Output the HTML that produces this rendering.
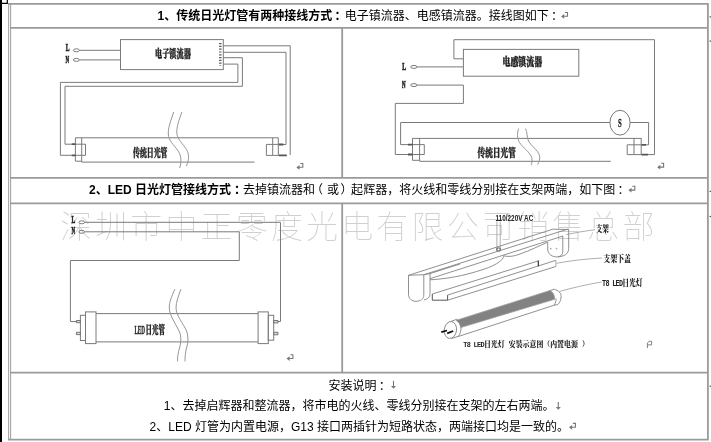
<!DOCTYPE html>
<html lang="zh-CN">
<head>
<meta charset="utf-8">
<title>LED日光灯管接线方式</title>
<style>
html,body{margin:0;padding:0;background:#fff;}
body{width:711px;height:442px;overflow:hidden;position:relative;font-family:"Liberation Sans","Noto Sans CJK SC",sans-serif;}
svg{position:absolute;left:0;top:0;display:block;filter:grayscale(1);}
.t{font-family:"Liberation Sans","Noto Sans CJK SC",sans-serif;font-size:12px;fill:#000;}
.b{font-weight:bold;}
.lb{font-family:"Liberation Serif","Noto Serif CJK SC",serif;font-weight:900;fill:#222;stroke:#222;stroke-width:0.35;}
.lm{font-family:"Liberation Mono","Noto Serif CJK SC",monospace;font-weight:900;fill:#222;}
.ln{stroke:#222;stroke-width:0.7;}
.wm{font-family:"Noto Sans CJK SC","Liberation Sans",sans-serif;font-weight:100;font-size:32px;fill:#d0d0d0;letter-spacing:3.15px;}
.w{fill:none;stroke:#7a7a7a;stroke-width:1;}
.w2{fill:none;stroke:#969696;stroke-width:1;}
.w3{fill:none;stroke:#838383;stroke-width:0.9;}
.w4{fill:none;stroke:#999;stroke-width:0.8;}
.bd{fill:none;stroke:#9a9a9a;stroke-width:1.8;}
.bd1{fill:none;stroke:#a6a6a6;stroke-width:1.1;}
.mk{fill:none;stroke:#8c8c8c;stroke-width:1;}
</style>
</head>
<body>
<svg width="711" height="442" viewBox="0 0 711 442">
<rect x="0" y="0" width="711" height="442" fill="#fff"/>

<!-- watermark -->
<g id="wm">
<text class="wm" x="60" y="238.2">深圳市中正零度光电有限公司销售总部</text>
</g>

<!-- left black bar / corner -->
<g id="edge">
<rect x="0" y="0" width="2" height="442" fill="#000"/>
<path d="M0,3.4 H7.3 V0" fill="none" stroke="#000" stroke-width="1.2"/>
<rect x="709.6" y="16.3" width="1.4" height="1.2" fill="#555"/>
<rect x="709.6" y="40.5" width="1.4" height="1.2" fill="#555"/>
<rect x="709.6" y="190.8" width="1.4" height="1.2" fill="#555"/>
<rect x="709.6" y="215.9" width="1.4" height="1.2" fill="#555"/>
<rect x="709.6" y="385.6" width="1.4" height="1.2" fill="#555"/>
</g>

<!-- table borders -->
<g id="table">
<path class="bd1" d="M8.6,4 V440 M10.6,4 V440"/>
<path class="bd" d="M8,3.9 H708.8 M707.9,3.9 V440.4 M8,439.7 H708.8"/>
<path class="bd" d="M10,27.8 H708 M10,177.8 H708 M10,203.3 H708 M10,372.7 H708"/>
<path class="bd" d="M342.2,27.8 V177.8 M342.2,203.3 V372.7"/>
</g>

<!-- header texts -->
<g id="texts">
<text class="t" x="157.5" y="20"><tspan class="b">1、传统日光灯管有两种接线方式<tspan dx="2.4">：</tspan></tspan><tspan dx="-1.9">电</tspan>子镇流器、电感镇流器。接线图如下<tspan dx="2.3">：</tspan></text>
<text class="t" x="89" y="194"><tspan class="b">2、LED 日光灯管接线方式<tspan dx="3">：</tspan></tspan><tspan dx="-3">去</tspan>掉镇流器和<tspan dx="-4">（</tspan><tspan dx="4">或</tspan><tspan dx="1.5">）</tspan><tspan dx="-1.5">起</tspan>辉器，将火线和零线分别接在支架两端，如下图<tspan dx="2.3">：</tspan></text>
<text class="t" x="328.5" y="389.5">安装说明<tspan dx="2.3">：</tspan></text>
<text class="t" x="163.8" y="410.4">1、去掉启辉器和整流器，将市电的火线、零线分别接在支架的左右两端。</text>
<text class="t" x="149.6" y="431">2、LED 灯管为内置电源，G13 接口两插针为短路状态，两端接口均是一致的。</text>
</g>

<!-- paragraph marks -->
<g id="marks">
<path d="M565.0,12.5 H567.5 V16.3 H562.6" fill="none" stroke="#777" stroke-width="1.1"/><path d="M561.1,16.4 L564.2,14.0 V18.8 Z" fill="#777"/>
<path d="M632.3,186.3 H634.8 V190.1 H629.9" fill="none" stroke="#777" stroke-width="1.1"/><path d="M628.4,190.2 L631.5,187.8 V192.6 Z" fill="#777"/>
<path d="M300.3,163.5 H302.8 V167.3 H297.9" fill="none" stroke="#777" stroke-width="1.1"/><path d="M296.4,167.4 L299.5,165.0 V169.8 Z" fill="#777"/>
<path d="M661.1,163.3 H663.6 V167.1 H658.7" fill="none" stroke="#777" stroke-width="1.1"/><path d="M657.2,167.2 L660.3,164.8 V169.6 Z" fill="#777"/>
<path d="M290.4,354.7 H292.9 V358.5 H288.0" fill="none" stroke="#777" stroke-width="1.1"/><path d="M286.5,358.6 L289.6,356.2 V361.0 Z" fill="#777"/>
<path d="M572.9,423.4 H575.4 V427.2 H570.5" fill="none" stroke="#777" stroke-width="1.1"/><path d="M569.0,427.3 L572.1,424.9 V429.7 Z" fill="#777"/>
<path d="M393.5,380.8 V387.8" fill="none" stroke="#777" stroke-width="1.1"/><path d="M391.0,386.0 H396.0 L393.5,388.8 Z" fill="#777"/>
<path d="M558.3,402.1 V408.7" fill="none" stroke="#777" stroke-width="1.1"/><path d="M555.8,406.9 H560.8 L558.3,409.7 Z" fill="#777"/>
<path d="M647.4,348 V343 L649.2,341.3 H651.6 V344.9 H647.4" fill="none" stroke="#808080" stroke-width="1"/>
</g>

<!-- diagram 1 -->
<g id="d1">
<rect class="w" x="120.5" y="39.6" width="102.8" height="30"/>
<path class="w" d="M79.5,50.3 H120.5 M79.5,59.9 H120.5"/>
<ellipse class="w" cx="76.4" cy="50.3" rx="3" ry="1.5"/>
<ellipse class="w" cx="76.4" cy="59.9" rx="3" ry="1.5"/>
<path class="w" d="M223.3,45.8 H290.2 V155"/>
<path class="w" d="M223.3,52.3 H286 V144.5 H283"/>
<path class="w" d="M223.3,57.7 H242.4 V86.3 H65 V144.2 H72"/>
<path class="w" d="M223.3,64.1 H237.9 V82.4 H60.4 V155.3 H72"/>
<path d="M220.3,43 V66" fill="none" stroke="#555" stroke-width="2.4" stroke-dasharray="1.2,1.6"/>
<!-- tube -->
<path class="w" d="M75.4,137.8 H278.3 M81.7,162.1 H254.5"/>
<path class="w" d="M75.4,137.8 V161.2 H81.7 M81.7,137.8 V162.1 M75.4,144.2 H85.5 V155.3 H75.4"/>
<path class="w" d="M266.4,144.4 H278.3 V155.4 H266.4 Z M272.7,137.8 V155.4 M278.3,137.8 V144.4"/>
<path d="M71.8,144.2 H75.6 M71.8,155.3 H75.6 M278.6,144.5 H283.4 M278.6,155.4 H286.8" fill="none" stroke="#555" stroke-width="1.8"/>
<!-- break curves -->
<path class="w2" d="M173.7,111.9 C171,120 168,128 168.3,134 C168.6,141 174,145 177.5,150 C181,155 182,160 179.7,168"/>
<path class="w2" d="M181.9,111.9 C179,120 176.5,127 176.8,133 C177.2,139 183,144 186.5,149.5 C189.5,154.5 189,160 186.4,166"/>
<text class="lb" font-size="11.5" transform="translate(155,57.8) scale(0.625,1)">电子镇流器</text>
<text class="lb" font-size="11.5" transform="translate(133,157.1) scale(0.6,1)">传统日光管</text>
<text class="lb ln" font-size="11.2" transform="translate(65.8,51.4) scale(0.5,1)">L</text>
<text class="lb ln" font-size="11.2" transform="translate(65.6,62.6) scale(0.44,1)">N</text>
</g>

<!-- diagram 2 -->
<g id="d2">
<rect class="w" x="463.4" y="49.4" width="115.4" height="26.8"/>
<path class="w" d="M463.4,58.8 H453.9 V39.7 H654.5 V154.6 H648"/>
<path class="w" d="M417.1,66.9 H463.4"/>
<path class="w" d="M417.1,85.1 H463.4 V103.4 H395.3 V154.5 H408"/>
<ellipse class="w" cx="413.9" cy="66.9" rx="3.2" ry="1.5"/>
<ellipse class="w" cx="413.9" cy="85.1" rx="3.2" ry="1.5"/>
<path class="w" d="M408,144.6 H400.6 V122.5 H610 M630,122.5 H648.6 V144.8 H646"/>
<ellipse class="w" cx="620" cy="122.7" rx="10.1" ry="12.4" fill="#fff"/>
<!-- tube -->
<path class="w" d="M412.5,138.4 H641.2 M419.6,161.3 H610.8"/>
<path class="w" d="M412.5,138.2 V160.3 H419.6 M419.6,138.2 V161.2 M412.5,144.6 H424.3 V154.5 H412.5"/>
<path class="w" d="M627.2,144.8 H641.2 V154.6 H627.2 Z M634,138.2 V154.6 M641.2,138.2 V144.8"/>
<path d="M408,144.6 H412.7 M408,154.5 H412.7 M641.4,144.8 H646 M641.4,154.6 H648" fill="none" stroke="#555" stroke-width="1.8"/>
<path class="w2" d="M518.7,128.6 C517,133 517,138 519.5,142.5 C523,148 530,152 531.7,157.5 C532.5,160.5 532,163 531,165.2"/>
<path class="w2" d="M525.5,128.6 C527.5,132 526.5,137 528.5,141 C531.5,146.5 538,150 539.5,155.5 C540.3,158.5 539,162 537.7,164.5"/>
<text class="lb" font-size="11.5" transform="translate(502.5,65.8) scale(0.69,1)">电感镇流器</text>
<text class="lb" font-size="11.5" transform="translate(477.6,157.3) scale(0.665,1)">传统日光管</text>
<text class="lb ln" font-size="11.2" transform="translate(402.3,69.8) scale(0.5,1)">L</text>
<text class="lb ln" font-size="11.2" transform="translate(402,88) scale(0.44,1)">N</text>
<text class="lb" font-size="12" transform="translate(617.9,126.9) scale(0.56,1)">S</text>
</g>

<!-- diagram 3 -->
<g id="d3">
<ellipse class="w" cx="81.7" cy="222.3" rx="2.9" ry="1.5"/>
<ellipse class="w" cx="81.7" cy="231.8" rx="2.9" ry="1.5"/>
<path class="w" d="M84.7,222.3 H280.5 V321.5 H278"/>
<path class="w" d="M84.7,231.8 H239.3 V260.5 H70.4 V321.5 H77"/>
<!-- tube -->
<path class="w" d="M96,313.6 H258.1 M96,341.9 H258.1"/>
<rect class="w" x="85.5" y="311.9" width="10.5" height="31.7" fill="#fff"/>
<rect class="w" x="80.4" y="315.3" width="5.1" height="25.2" fill="#fff"/>
<rect class="w" x="258.1" y="311.9" width="10.2" height="31.7" fill="#fff"/>
<rect class="w" x="268.3" y="315.3" width="5.4" height="24.9" fill="#fff"/>
<path d="M76.4,320.5 H80.4 V322.7 H76.4 Z M76.4,332.3 H80.4 V334.6 H76.4 Z M273.7,320.5 H278 V322.9 H273.7 Z M273.7,332.3 H278 V334.8 H273.7 Z" fill="#ddd" stroke="#666" stroke-width="0.9"/>
<path class="w2" d="M174.8,289.2 C172,296 169,302 169.3,308 C169.6,316 176,324 179.5,332 C181.5,337 181,343 179.5,348 C178,353 177.5,357 177.5,361.4"/>
<path class="w2" d="M180.9,289.2 C178.5,296 176,302 176,308 C176.3,316 183,323 186.6,331 C188.5,336 188.3,342 186.8,347 C185.3,352 185,357 185,361.4"/>
<text class="lb" font-size="11.5" transform="translate(134.4,333.8) scale(0.45,1)">LED</text>
<text class="lb" font-size="11.5" transform="translate(145.6,333.8) scale(0.56,1)">日光管</text>
<text class="lb ln" font-size="11.2" transform="translate(71.6,223.4) scale(0.5,1)">L</text>
<text class="lb ln" font-size="11.2" transform="translate(71.4,234.4) scale(0.44,1)">N</text>
</g>

<!-- diagram 4 -->
<g id="d4">
<!-- wire -->
<path class="w4" d="M496.9,221.5 V251 M500.2,221.5 V251"/>
<path d="M496.9,248 H500.2 V251 H496.9 Z" fill="none" stroke="#555" stroke-width="0.9"/>
<!-- fixture -->
<path class="w3" d="M408.5,275.3 L552.8,229.2 L568.7,229.5"/>
<path class="w3" d="M423.8,274.7 L568.5,228.9"/>
<path class="w3" d="M430,273.6 L460,264"/>
<path class="w3" d="M430,278.7 L563,236"/>
<path class="w3" d="M430,279.8 C445,279 462,276.5 485,268.9 C494,265.5 501,262 503.3,257.5 C503.8,256.6 503.4,256 502.8,255.8"/>
<path class="w3" d="M503.5,255.8 C508,257 514,256.5 520,254 C530,250.5 540,245.5 547.7,242.2"/>
<path class="w3" d="M408.5,275.3 L423.8,274.7 M408.5,275.3 V294 C408.5,299 412,301.3 416,301.3 C420.5,301.3 423.8,299 423.8,295 V274.7"/>
<path class="w3" d="M423.8,274.7 L430,273.6 V293.5 C430,297 428,299.3 424,299.8"/>
<path class="w3" d="M547.7,242.2 V249 C548,254.5 552,257 557.4,256.9 C564,256.5 568.7,254 568.7,248.5 V229.5"/>
<path class="w3" d="M562.8,236 V251.5 C562.6,254.5 561,256.3 558,256.9"/>
<circle cx="550.7" cy="248.6" r="0.9" fill="#aaa"/>
<circle cx="556.5" cy="248.6" r="0.9" fill="#aaa"/>
<!-- lower cover -->
<path class="w3" d="M432.3,294 L538.3,260.9 M447.6,295.1 L555.9,260.3 M447.6,300.2 L555.9,266.5"/>
<path d="M432.3,294 V300.2 H447.6 V295.1" fill="none" stroke="#555" stroke-width="1"/>
<path d="M538.3,260.6 V266.2" fill="none" stroke="#333" stroke-width="1.2"/>
<path d="M555.9,260.3 V266.5" fill="none" stroke="#aaa" stroke-width="1"/>
<!-- leaders -->
<path class="w4" d="M566.4,234.5 C576,232.5 586,230.8 595.5,229.6"/>
<path class="w4" d="M556.4,263.3 C570,260.8 586,258.8 602,258"/>
<path class="w4" d="M559.4,291.5 C572,288 586,284.6 601.5,282"/>
<!-- LED tube -->
<path d="M456,320.4 L549.8,290.6 C552.5,291.8 554.8,295 554.7,299.2 L460.6,327.6 C460.5,324.5 458.6,321.6 456,320.4 Z" fill="#828282" stroke="#9a9a9a" stroke-width="0.8"/>
<path class="w3" d="M458.3,336.5 L553.8,305.3"/>
<ellipse class="w3" cx="450.4" cy="330" rx="6.1" ry="8.5" transform="rotate(8 450.4 330)"/>
<path class="w3" d="M450.9,321.5 L456.6,319.3 C459.5,321 461.3,324 461.1,327.4 C461,331.5 460,334.5 458.3,336.3 L451.5,338.5"/>
<path class="w3" d="M549.8,290.6 L554.3,289.3 C558.5,290.5 561.3,293 561.1,296.8 C560.9,300.5 559.5,303 557.7,304.5 L553.8,305.3 C555.5,303.5 556.2,301 556,298.3"/>
<path d="M441.3,332.2 L447,330.5 M447.2,333.4 L453.2,331" fill="none" stroke="#111" stroke-width="1.8"/>
<!-- labels -->
<rect x="595" y="223.5" width="15" height="9.5" fill="#fff"/>
<text class="lm" style="font-family:'Liberation Sans',sans-serif" font-size="8.9" transform="translate(495.4,220.7) scale(0.72,1)">110/220V AC</text>
<text class="lm" font-size="8.8" transform="translate(595.7,231.6) scale(0.75,1)">支架</text>
<text class="lm" font-size="8.8" transform="translate(603.2,261.7) scale(0.79,1)">支架下盖</text>
<text class="lm" font-size="8.8" transform="translate(602,286) scale(0.77,1)"><tspan letter-spacing="-0.88">T8 LED</tspan>日光灯</text>
<text class="lm" font-size="7.6" transform="translate(463.3,347.2) scale(0.91,1)"><tspan letter-spacing="-0.77">T8 LED</tspan>日光灯 安装示意图（内置电源 ）</text>
</g>
</svg>
</body>
</html>
